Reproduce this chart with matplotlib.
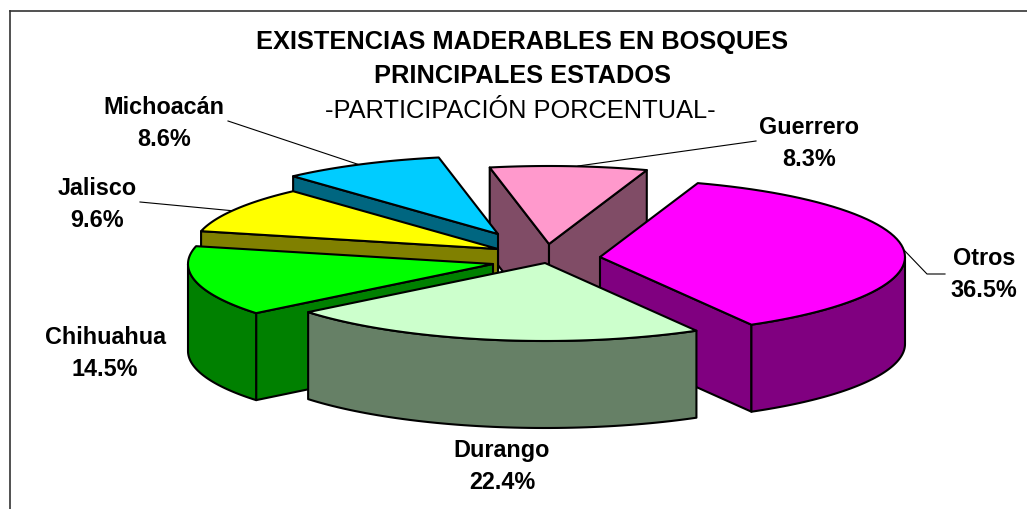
import numpy as np
import matplotlib
matplotlib.use('Agg')
import matplotlib.pyplot as plt
from matplotlib.patches import Polygon

plt.rcParams['font.family'] = ['Liberation Sans', 'DejaVu Sans']

# Datos de la grafica
estados = ['Otros', 'Durango', 'Chihuahua', 'Jalisco', 'Michoacán', 'Guerrero']
valores = [36.5, 22.4, 14.5, 9.6, 8.6, 8.3]

# Colores de la cara superior y de los lados
color_top = ['#FF00FF', '#CCFFCC', '#00FF00', '#FFFF00', '#00CCFF', '#FF99CC']
color_lado = ['#800080', '#668066', '#008000', '#808000', '#006680', '#804C66']

# Geometria del pastel en pixeles
cx, cy = 548, 258
rx, ry = 305, 78
prof = 87
inicio = 18.7
# desplazamiento de cada rebanada respecto al centro
despl = [(52, 0), (-3, 6), (-55, 7), (-50, -8), (-50, -23), (1, -13)]
# orden de dibujo, de atras hacia adelante
orden = [5, 4, 3, 0, 2, 1]

fig = plt.figure(figsize=(10.27, 5.10), dpi=100)
ax = fig.add_axes([0, 0, 1, 1])
ax.set_xlim(0, 1027)
ax.set_ylim(510, 0)
ax.axis('off')


def punto(x0, y0, t):
    # t en grados, en sentido horario desde arriba
    r = np.radians(t)
    return x0 + rx * np.sin(r), y0 - ry * np.cos(r)


def arco(x0, y0, t1, t2):
    ts = np.linspace(t1, t2, 60)
    return [punto(x0, y0, t) for t in ts]


def poligono(pts, color, z):
    ax.add_patch(Polygon(pts, closed=True, facecolor=color, edgecolor='black',
                         linewidth=1.5, joinstyle='round', zorder=z))


# Angulos de cada rebanada
total = sum(valores)
angulos = [inicio]
for v in valores:
    angulos.append(angulos[-1] + v / total * 360)

z = 2
for i in orden:
    x0 = cx + despl[i][0]
    y0 = cy + despl[i][1]
    t1, t2 = angulos[i], angulos[i + 1]
    # caras de corte, solo las que miran al frente
    caras = []
    if np.sin(np.radians(t1)) < 0:
        caras.append(t1)
    if np.sin(np.radians(t2)) > 0:
        caras.append(t2)
    for t in caras:
        p = punto(x0, y0, t)
        poligono([(x0, y0), p, (p[0], p[1] + prof), (x0, y0 + prof)], color_lado[i], z)
    # lado exterior, solo la parte visible
    a = max(t1, 90)
    b = min(t2, 270)
    if a < b:
        borde = arco(x0, y0, a, b)
        abajo = [(x, y + prof) for x, y in borde[::-1]]
        poligono(borde + abajo, color_lado[i], z)
    # cara superior
    poligono([(x0, y0)] + arco(x0, y0, t1, t2), color_top[i], z)
    z += 1

# Marco (solo izquierda y arriba)
ax.plot([9.5, 9.5], [510, 11.5], color='#333333', lw=1.2, zorder=1)
ax.plot([9.5, 1027], [11.5, 11.5], color='#333333', lw=1.2, zorder=1)

# Titulo
ax.text(522, 41.5, 'EXISTENCIAS MADERABLES EN BOSQUES', ha='center', va='center',
        fontsize=18.3, fontweight='bold')
ax.text(522, 76, 'PRINCIPALES ESTADOS', ha='center', va='center',
        fontsize=18.3, fontweight='bold')
ax.text(520, 111.5, '-PARTICIPACIÓN PORCENTUAL-', ha='center', va='center', fontsize=18.3)

# Etiquetas
pos_etq = [(984, 275), (502, 467), (105, 354), (97, 205), (164, 123), (809, 144)]
for i in range(len(estados)):
    ax.text(pos_etq[i][0], pos_etq[i][1], '%s\n%.1f%%' % (estados[i], valores[i]),
            ha='center', va='center', fontsize=16.8, fontweight='bold', linespacing=1.5)

# Lineas guia
ax.plot([228, 360], [122, 166], color='black', lw=0.8, zorder=1)
ax.plot([756, 578], [142, 167], color='black', lw=0.8, zorder=1)
ax.plot([140, 235], [203, 212], color='black', lw=0.8, zorder=1)
ax.plot([903, 927, 945], [250, 275, 275], color='black', lw=0.8, zorder=1)

fig.savefig('out.png', dpi=100)
